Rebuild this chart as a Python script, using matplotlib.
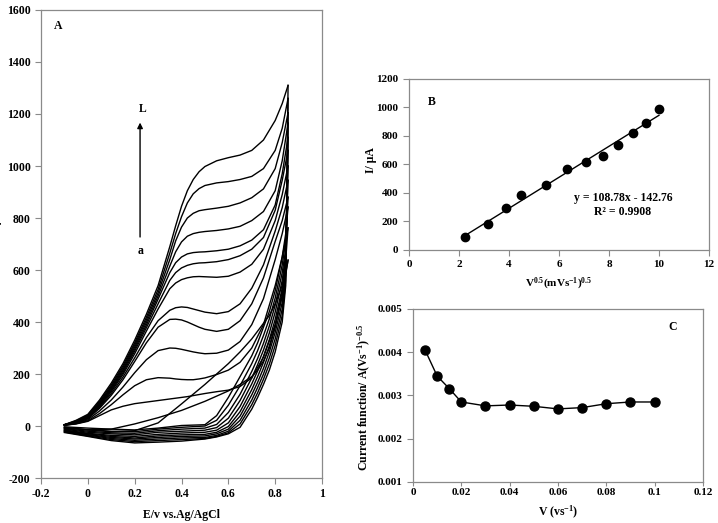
import numpy as np
import matplotlib
matplotlib.use('Agg')
import matplotlib.pyplot as plt

# ---- panel A: cyclic voltammograms (a ... L), currents in uA ----
E_FWD = [-0.1, -0.05, 0.0, 0.05, 0.1, 0.15, 0.2, 0.25, 0.3, 0.35, 0.375, 0.4,
         0.425, 0.45, 0.475, 0.5, 0.55, 0.6, 0.65, 0.7, 0.75, 0.8, 0.83, 0.855]
E_REV = [0.855, 0.845, 0.83, 0.8, 0.775, 0.75, 0.725, 0.7, 0.65, 0.6,
         0.55, 0.5, 0.4, 0.3, 0.2, 0.1, 0.0, -0.1]

fwd_a = [3, 8, 18, 40, 62, 76, 86, 92, 98, 104, 107, 110, 113, 117, 121, 125, 132, 138, 152, 185, 265, 390, 500, 638]
fwd_b = [3, 9, 20, 48, 82, 120, 155, 178, 186, 184, 181, 179, 178, 178, 181, 185, 198, 215, 245, 300, 390, 540, 650, 762]
fwd_c = [3, 10, 24, 58, 100, 150, 205, 255, 290, 300, 299, 295, 290, 285, 281, 278, 280, 292, 325, 390, 490, 640, 740, 842]
fwd_d = [4, 12, 28, 68, 118, 178, 248, 320, 380, 410, 411, 408, 400, 390, 380, 372, 364, 372, 405, 470, 570, 710, 790, 880]
fwd_e = [4, 13, 30, 72, 125, 188, 262, 340, 405, 445, 455, 458, 456, 450, 444, 438, 432, 440, 470, 530, 620, 750, 840, 945]
fwd_f = [4, 14, 32, 76, 132, 198, 278, 365, 450, 528, 550, 563, 570, 574, 575, 574, 572, 576, 592, 622, 680, 790, 890, 1000]
fwd_g = [5, 15, 34, 80, 137, 205, 288, 378, 470, 560, 590, 608, 618, 624, 627, 628, 632, 640, 655, 680, 725, 830, 945, 1060]
fwd_h = [5, 16, 36, 84, 142, 212, 296, 388, 488, 590, 628, 650, 662, 667, 669, 670, 674, 680, 693, 715, 755, 850, 970, 1110]
fwd_i = [5, 17, 38, 87, 147, 218, 304, 398, 500, 615, 670, 708, 730, 740, 745, 748, 752, 758, 768, 790, 825, 905, 1020, 1165]
fwd_j = [5, 18, 40, 90, 152, 225, 312, 408, 512, 640, 712, 765, 800, 818, 828, 832, 838, 845, 858, 878, 912, 990, 1090, 1205]
fwd_k = [5, 20, 42, 95, 158, 232, 320, 418, 525, 665, 740, 805, 858, 893, 913, 925, 935, 940, 948, 960, 990, 1060, 1145, 1260]
fwd_l = [5, 22, 45, 100, 165, 240, 330, 430, 540, 690, 770, 845, 905, 948, 978, 998, 1020, 1032, 1042, 1060, 1100, 1175, 1240, 1310]

rev_a = [638, 590, 540, 470, 425, 395, 365, 335, 285, 240, 200, 160, 85, 12, -18, -22, -15, -5]
rev_b = [762, 640, 520, 380, 300, 250, 215, 190, 160, 135, 115, 95, 60, 32, 8, -12, -15, -8]
rev_c = [842, 740, 650, 520, 440, 380, 320, 270, 190, 110, 40, 5, 2, -8, -15, -12, -8, -3]
rev_d = [880, 710, 620, 492, 412, 348, 290, 240, 155, 80, 22, 0, -5, -12, -22, -20, -14, -6]
rev_e = [945, 680, 590, 465, 385, 318, 260, 210, 122, 52, 6, -8, -12, -18, -28, -26, -20, -10]
rev_f = [1000, 660, 560, 438, 358, 292, 236, 185, 98, 30, -6, -16, -20, -24, -34, -30, -24, -12]
rev_g = [1060, 640, 530, 410, 332, 268, 212, 162, 75, 12, -16, -24, -27, -32, -40, -36, -28, -15]
rev_h = [1110, 620, 500, 385, 308, 245, 190, 140, 55, -2, -24, -32, -34, -38, -46, -40, -30, -17]
rev_i = [1165, 600, 475, 360, 285, 222, 168, 120, 38, -12, -30, -38, -40, -44, -50, -44, -33, -19]
rev_j = [1205, 580, 450, 335, 262, 200, 148, 100, 22, -20, -36, -44, -46, -50, -55, -48, -35, -21]
rev_k = [1260, 560, 425, 310, 238, 180, 128, 82, 8, -26, -40, -48, -52, -56, -60, -52, -38, -23]
rev_l = [1310, 540, 400, 285, 215, 160, 110, 65, -5, -30, -42, -50, -58, -62, -65, -56, -40, -25]

# ---- panel B: peak current vs sqrt(scan rate) ----
sqrt_v = [2.236, 3.162, 3.873, 4.472, 5.477, 6.325, 7.071, 7.746, 8.367, 8.944, 9.487, 10.0]
peak_i = [89, 182, 297, 388, 454, 568, 617, 662, 734, 821, 891, 990]
SLOPE, INTERCEPT = 108.78, -142.76

# ---- panel C: current function vs scan rate ----
scan_v = [0.005, 0.01, 0.015, 0.02, 0.03, 0.04, 0.05, 0.06, 0.07, 0.08, 0.09, 0.1]
cur_fn = [0.00405, 0.00345, 0.00316, 0.00285, 0.00276, 0.00278, 0.00275,
          0.00269, 0.00272, 0.00281, 0.00285, 0.00285]

A_XTICKS = [-0.2, 0, 0.2, 0.4, 0.6, 0.8, 1]
A_XLABELS = ['-0.2', '0', '0.2', '0.4', '0.6', '0.8', '1']
A_YTICKS = [-200, 0, 200, 400, 600, 800, 1000, 1200, 1400, 1600]
B_XTICKS = [0, 2, 4, 6, 8, 10, 12]
B_YTICKS = [0, 200, 400, 600, 800, 1000, 1200]
C_XTICKS = [0, 0.02, 0.04, 0.06, 0.08, 0.1, 0.12]
C_XLABELS = ['0', '0.02', '0.04', '0.06', '0.08', '0.1', '0.12']
C_YTICKS = [0.001, 0.002, 0.003, 0.004, 0.005]
C_YLABELS = ['0.001', '0.002', '0.003', '0.004', '0.005']

plt.rcParams['font.family'] = 'Liberation Serif'
plt.rcParams['font.weight'] = 'bold'
plt.rcParams['mathtext.fontset'] = 'custom'
plt.rcParams['mathtext.rm'] = 'Liberation Serif:bold'
plt.rcParams['mathtext.it'] = 'Liberation Serif:bold'
plt.rcParams['mathtext.bf'] = 'Liberation Serif:bold'

GRAY = '#8a8a8a'


def style_axes(ax, fs):
    for s in ax.spines.values():
        s.set_color(GRAY)
        s.set_linewidth(0.9)
    ax.tick_params(direction='out', length=4, width=0.8, color=GRAY,
                   labelsize=fs, labelcolor='black')


fig = plt.figure(figsize=(7.18, 5.23), dpi=100)

# panel A
axA = fig.add_axes([0.0571, 0.0860, 0.3914, 0.8949])
fwd_all = [fwd_a, fwd_b, fwd_c, fwd_d, fwd_e, fwd_f, fwd_g, fwd_h, fwd_i, fwd_j, fwd_k, fwd_l]
rev_all = [rev_a, rev_b, rev_c, rev_d, rev_e, rev_f, rev_g, rev_h, rev_i, rev_j, rev_k, rev_l]
for fwd, rev in zip(fwd_all, rev_all):
    axA.plot(E_FWD, fwd, color='black', lw=1.0, solid_joinstyle='round')
    axA.plot(E_REV, rev, color='black', lw=1.0, solid_joinstyle='round')
axA.set_xlim(-0.2, 1)
axA.set_ylim(-200, 1600)
axA.set_xticks(A_XTICKS)
axA.set_xticklabels(A_XLABELS)
axA.set_yticks(A_YTICKS)
axA.set_yticklabels([str(t) for t in A_YTICKS])
style_axes(axA, 8.5)
axA.set_xlabel('E/v vs.Ag/AgCl', fontsize=8.5, fontweight='bold', labelpad=6)
fig.text(-0.005, 0.575, 'I/ μA', rotation=90, fontsize=8.5, fontweight='bold',
         ha='center', va='center')
axA.text(-0.145, 1540, 'A', fontsize=8.5, fontweight='bold', ha='left', va='center')
axA.annotate('', xy=(0.223, 1167), xytext=(0.223, 727),
             arrowprops=dict(arrowstyle='-|>', color='black', lw=1.0,
                             mutation_scale=8, shrinkA=0, shrinkB=0))
axA.text(0.234, 1219, 'L', fontsize=8.5, fontweight='bold', ha='center', va='center')
axA.text(0.225, 672, 'a', fontsize=8.5, fontweight='bold', ha='center', va='center')

# panel B
axB = fig.add_axes([0.5696, 0.5220, 0.4178, 0.3270])
xfit = np.array([sqrt_v[0], sqrt_v[-1]])
axB.plot(xfit, SLOPE * xfit + INTERCEPT, color='black', lw=1.0)
axB.plot(sqrt_v, peak_i, 'o', color='black', ms=6)
axB.set_xlim(0, 12)
axB.set_ylim(0, 1200)
axB.set_xticks(B_XTICKS)
axB.set_yticks(B_YTICKS)
style_axes(axB, 8)
axB.set_xlabel(r'V$^{0.5}$(mVs$^{-1}$)$^{0.5}$', fontsize=8, fontweight='bold', labelpad=5)
axB.set_ylabel('I/ μA', fontsize=8.5, fontweight='bold')
axB.yaxis.set_label_coords(-0.107, 0.526)
axB.text(0.76, 1039, 'B', fontsize=8.5, fontweight='bold', ha='left', va='center')
axB.text(8.56, 365, 'y = 108.78x - 142.76', fontsize=8.5, fontweight='bold',
         ha='center', va='center')
axB.text(8.56, 267, 'R² = 0.9908', fontsize=8.5, fontweight='bold',
         ha='center', va='center')

# panel C
axC = fig.add_axes([0.5752, 0.0784, 0.4039, 0.3308])
axC.plot(scan_v, cur_fn, '-o', color='black', lw=1.0, ms=6.5)
axC.set_xlim(0, 0.12)
axC.set_ylim(0.001, 0.005)
axC.set_xticks(C_XTICKS)
axC.set_xticklabels(C_XLABELS)
axC.set_yticks(C_YTICKS)
axC.set_yticklabels(C_YLABELS)
style_axes(axC, 8)
axC.tick_params(axis='x', length=3, pad=1.5)
axC.set_xlabel(r'V (vs$^{-1}$)', fontsize=8.5, fontweight='bold', labelpad=5)
axC.set_ylabel(r'Current function/ A(Vs$^{-1}$)$^{-0.5}$', fontsize=8.5,
               fontweight='bold')
axC.yaxis.set_label_coords(-0.138, 0.49)
axC.text(0.1076, 0.004584, 'C', fontsize=8.5, fontweight='bold', ha='center', va='center')

fig.savefig('out.png', dpi=100)
